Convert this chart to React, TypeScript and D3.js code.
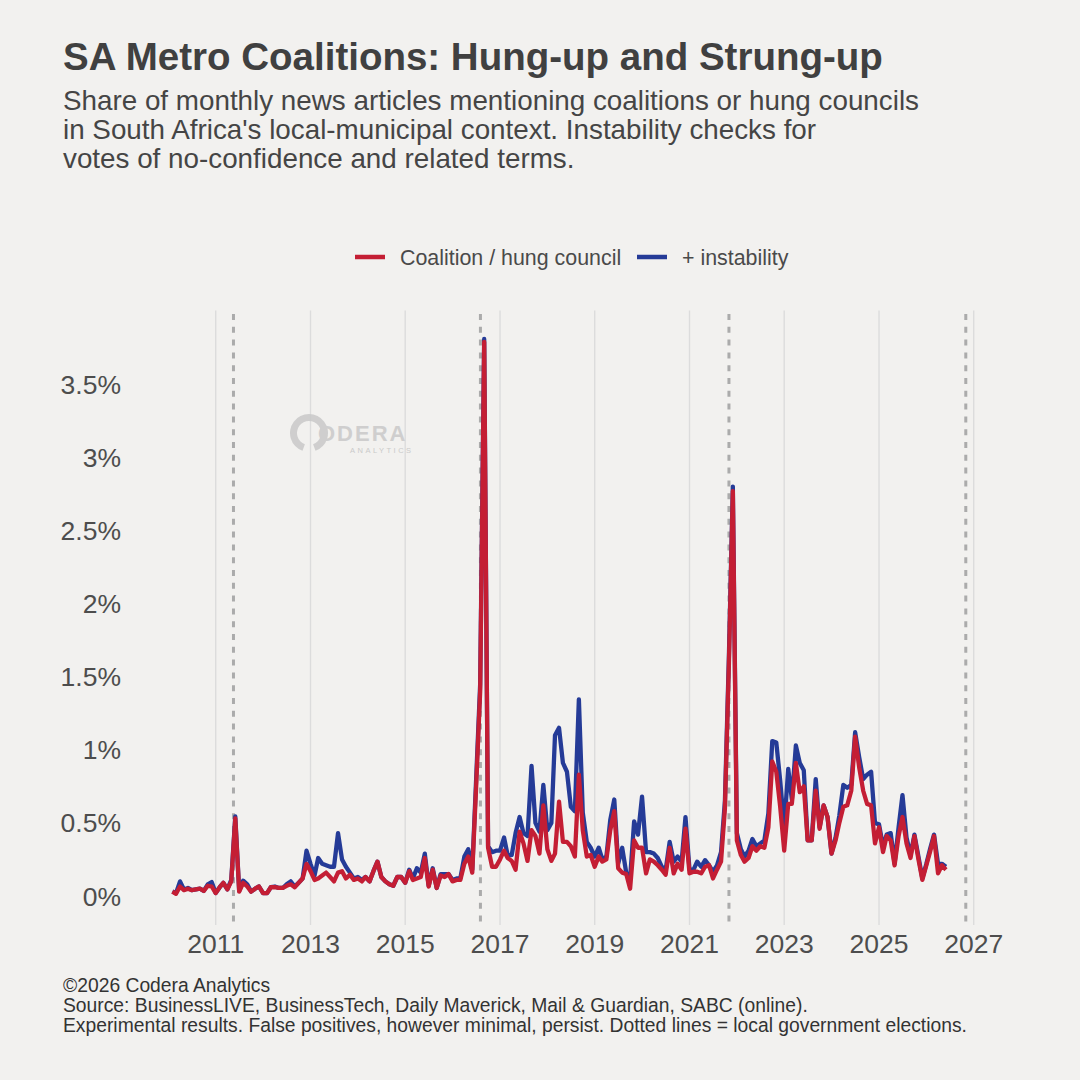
import React from "react";
import * as d3 from "d3";

// Monthly observations: Feb 2010 – Jun 2026
const firstMonth = new Date(2010, 1, 1);
const afterLastMonth = new Date(2026, 6, 1);

// Share of articles (%) – coalition / hung council
const coalition: number[] = [
  // 2010 (Feb–Dec)
  0.03, 0.015, 0.065, 0.04, 0.05, 0.04, 0.045, 0.05, 0.035, 0.07, 0.065,
  // 2011
  0.02, 0.06, 0.09, 0.045, 0.1, 0.53, 0.03, 0.09, 0.065, 0.03, 0.05, 0.065,
  // 2012
  0.02, 0.02, 0.06, 0.06, 0.055, 0.055, 0.07, 0.08, 0.06, 0.09, 0.12, 0.22,
  // 2013
  0.17, 0.11, 0.12, 0.14, 0.16, 0.13, 0.1, 0.16, 0.17, 0.12, 0.145, 0.11,
  // 2014
  0.12, 0.1, 0.13, 0.1, 0.17, 0.235, 0.13, 0.1, 0.08, 0.07, 0.13, 0.13,
  // 2015
  0.09, 0.17, 0.11, 0.12, 0.13, 0.26, 0.065, 0.18, 0.055, 0.14, 0.13, 0.15,
  // 2016
  0.1, 0.11, 0.11, 0.22, 0.27, 0.16, 0.75, 1.4, 3.79, 0.33, 0.2, 0.2,
  // 2017
  0.25, 0.31, 0.26, 0.24, 0.18, 0.44, 0.36, 0.24, 0.45, 0.41, 0.29, 0.62,
  // 2018
  0.32, 0.24, 0.29, 0.645, 0.37, 0.37, 0.34, 0.27, 0.83, 0.45, 0.27, 0.28,
  // 2019
  0.2, 0.27, 0.235, 0.25, 0.45, 0.58, 0.19, 0.16, 0.15, 0.05, 0.38, 0.33,
  // 2020
  0.33, 0.155, 0.25, 0.235, 0.21, 0.18, 0.145, 0.33, 0.155, 0.22, 0.18, 0.46,
  // 2021
  0.155, 0.166, 0.166, 0.155, 0.2, 0.21, 0.12, 0.18, 0.235, 0.6, 1.6, 2.77,
  // 2022
  0.38, 0.28, 0.235, 0.26, 0.34, 0.31, 0.34, 0.33, 0.47, 0.92, 0.85, 0.61,
  // 2023
  0.31, 0.63, 0.63, 0.91, 0.71, 0.75, 0.38, 0.38, 0.72, 0.46, 0.62, 0.54,
  // 2024
  0.29, 0.38, 0.5, 0.61, 0.62, 0.72, 1.09, 0.88, 0.72, 0.63, 0.62, 0.36,
  // 2025
  0.47, 0.3, 0.41, 0.38, 0.21, 0.41, 0.54, 0.36, 0.26, 0.41, 0.25, 0.11,
  // 2026 (Jan–Jun)
  0.21, 0.31, 0.41, 0.155, 0.21, 0.18,
];

// Share of articles (%) – coalition / hung council + instability
const instability: number[] = [
  // 2010 (Feb–Dec)
  0.03, 0.02, 0.1, 0.045, 0.055, 0.04, 0.045, 0.05, 0.035, 0.08, 0.095,
  // 2011
  0.02, 0.06, 0.09, 0.045, 0.11, 0.545, 0.035, 0.105, 0.08, 0.03, 0.05, 0.065,
  // 2012
  0.02, 0.02, 0.06, 0.065, 0.055, 0.055, 0.08, 0.1, 0.065, 0.09, 0.12, 0.31,
  // 2013
  0.22, 0.14, 0.26, 0.22, 0.21, 0.2, 0.2, 0.43, 0.25, 0.2, 0.16, 0.12,
  // 2014
  0.13, 0.11, 0.13, 0.1, 0.17, 0.235, 0.13, 0.1, 0.08, 0.07, 0.13, 0.13,
  // 2015
  0.09, 0.18, 0.12, 0.19, 0.16, 0.29, 0.07, 0.19, 0.055, 0.15, 0.15, 0.15,
  // 2016
  0.11, 0.12, 0.12, 0.27, 0.32, 0.18, 0.8, 1.45, 3.81, 0.34, 0.3, 0.31,
  // 2017
  0.31, 0.4, 0.28, 0.28, 0.43, 0.54, 0.43, 0.41, 0.89, 0.5, 0.44, 0.76,
  // 2018
  0.45, 0.5, 1.1, 1.15, 0.91, 0.85, 0.61, 0.58, 1.345, 0.57, 0.37, 0.33,
  // 2019
  0.27, 0.33, 0.25, 0.27, 0.52, 0.66, 0.22, 0.33, 0.16, 0.12, 0.51, 0.42,
  // 2020
  0.68, 0.3, 0.3, 0.29, 0.26, 0.2, 0.178, 0.37, 0.235, 0.27, 0.235, 0.54,
  // 2021
  0.18, 0.18, 0.235, 0.2, 0.245, 0.21, 0.166, 0.21, 0.3, 0.65, 1.65, 2.8,
  // 2022
  0.43, 0.32, 0.27, 0.31, 0.39, 0.34, 0.36, 0.38, 0.565, 1.06, 1.05, 0.79,
  // 2023
  0.47, 0.87, 0.66, 1.03, 0.91, 0.86, 0.38, 0.38, 0.8, 0.47, 0.62, 0.54,
  // 2024
  0.29, 0.4, 0.55, 0.76, 0.74, 0.76, 1.12, 0.95, 0.8, 0.83, 0.85, 0.5,
  // 2025
  0.49, 0.34, 0.42, 0.43, 0.22, 0.47, 0.69, 0.4, 0.28, 0.42, 0.27, 0.12,
  // 2026 (Jan–Jun)
  0.22, 0.33, 0.42, 0.22, 0.22, 0.2,
];

const yearTicks = [2011, 2013, 2015, 2017, 2019, 2021, 2023, 2025, 2027];
const pctTicks = [0, 0.5, 1, 1.5, 2, 2.5, 3, 3.5];
const electionDates = ["2011-05-18", "2016-08-03", "2021-11-01", "2026-11-01"];

const seriesLabels = ["Coalition / hung council", "+ instability"];
const seriesColors = ["#C41E34", "#253B97"];

const titleText = "SA Metro Coalitions: Hung-up and Strung-up";
const subtitleLines = [
  "Share of monthly news articles mentioning coalitions or hung councils",
  "in South Africa's local-municipal context. Instability checks for",
  "votes of no-confidence and related terms.",
];
const footerLines = [
  "©2026 Codera Analytics",
  "Source: BusinessLIVE, BusinessTech, Daily Maverick, Mail & Guardian, SABC (online).",
  "Experimental results. False positives, however minimal, persist. Dotted lines = local government elections.",
];

const FONT = "'Liberation Sans', Arial, Helvetica, sans-serif";
const BG = "#F2F1EF";

export default function App() {
  const months = d3.timeMonth.range(firstMonth, afterLastMonth);
  const parse = d3.timeParse("%Y-%m-%d");

  const x = d3
    .scaleTime()
    .domain([new Date(2011, 0, 1), new Date(2027, 0, 1)])
    .range([215.7, 973.7]);
  const y = d3.scaleLinear().domain([0, 3.5]).range([896, 384.3]);

  const line = d3
    .line<number>()
    .x((_, i) => x(months[i]))
    .y((d) => y(d));

  const panelTop = 310.5;
  const panelBottom = 925;

  return (
    <>
      <style>{`body{margin:0;background:${BG};}`}</style>
      <svg
        width={1080}
        height={1080}
        viewBox="0 0 1080 1080"
        style={{ display: "block", fontFamily: FONT }}
      >
        <rect x={0} y={0} width={1080} height={1080} fill={BG} />

        {/* Title & subtitle */}
        <text x={63} y={70} fontSize={38.5} fontWeight="bold" fill="#404040">
          {titleText}
        </text>
        {subtitleLines.map((s, i) => (
          <text key={i} x={63} y={110 + i * 29} fontSize={27.8} fill="#454545">
            {s}
          </text>
        ))}

        {/* Legend */}
        <g>
          <line x1={355} x2={385} y1={257} y2={257} stroke={seriesColors[0]} strokeWidth={4.5} />
          <text x={400} y={264.5} fontSize={21.4} fill="#4a4a4a">
            {seriesLabels[0]}
          </text>
          <line x1={637} x2={667} y1={257} y2={257} stroke={seriesColors[1]} strokeWidth={4.5} />
          <text x={682} y={264.5} fontSize={21.4} fill="#4a4a4a">
            {seriesLabels[1]}
          </text>
        </g>

        {/* Vertical grid */}
        {yearTicks.map((yr) => {
          const gx = x(new Date(yr, 0, 1));
          return (
            <line
              key={yr}
              x1={gx}
              x2={gx}
              y1={panelTop}
              y2={panelBottom}
              stroke="#DCDCDC"
              strokeWidth={1.4}
            />
          );
        })}

        {/* Watermark */}
        <g opacity={0.85}>
          <path
            d={d3.arc()({
              innerRadius: 12,
              outerRadius: 19,
              startAngle: (200 / 180) * Math.PI,
              endAngle: (520 / 180) * Math.PI,
            }) as string}
            transform="translate(309,433)"
            fill="#C9C9C9"
          />
          <text x={318} y={440.5} fontSize={22} fontWeight="bold" fill="#C9C9C9" letterSpacing={2}>
            ODERA
          </text>
          <text x={350} y={453} fontSize={7.5} fill="#C4C4C4" letterSpacing={2.5}>
            ANALYTICS
          </text>
        </g>

        {/* Election lines */}
        {electionDates.map((d) => {
          const ex = x(parse(d) as Date);
          return (
            <line
              key={d}
              x1={ex}
              x2={ex}
              y1={314}
              y2={922}
              stroke="#ABABAB"
              strokeWidth={3}
              strokeDasharray="6,6.8"
            />
          );
        })}

        {/* Series */}
        <path
          d={line(instability) as string}
          fill="none"
          stroke={seriesColors[1]}
          strokeWidth={4.3}
          strokeLinejoin="round"
        />
        <path
          d={line(coalition) as string}
          fill="none"
          stroke={seriesColors[0]}
          strokeWidth={4.3}
          strokeLinejoin="round"
        />

        {/* Y axis labels */}
        {pctTicks.map((t) => (
          <text
            key={t}
            x={121}
            y={y(t)}
            dy="0.36em"
            textAnchor="end"
            fontSize={26.5}
            fill="#4d4d4d"
          >
            {`${t}%`}
          </text>
        ))}

        {/* X axis labels */}
        {yearTicks.map((yr) => (
          <text
            key={yr}
            x={x(new Date(yr, 0, 1))}
            y={953}
            textAnchor="middle"
            fontSize={26.5}
            fill="#4d4d4d"
          >
            {yr}
          </text>
        ))}

        {/* Footer */}
        {footerLines.map((s, i) => (
          <text key={i} x={63} y={992 + i * 20} fontSize={19.3} fill="#333333">
            {s}
          </text>
        ))}
      </svg>
    </>
  );
}
